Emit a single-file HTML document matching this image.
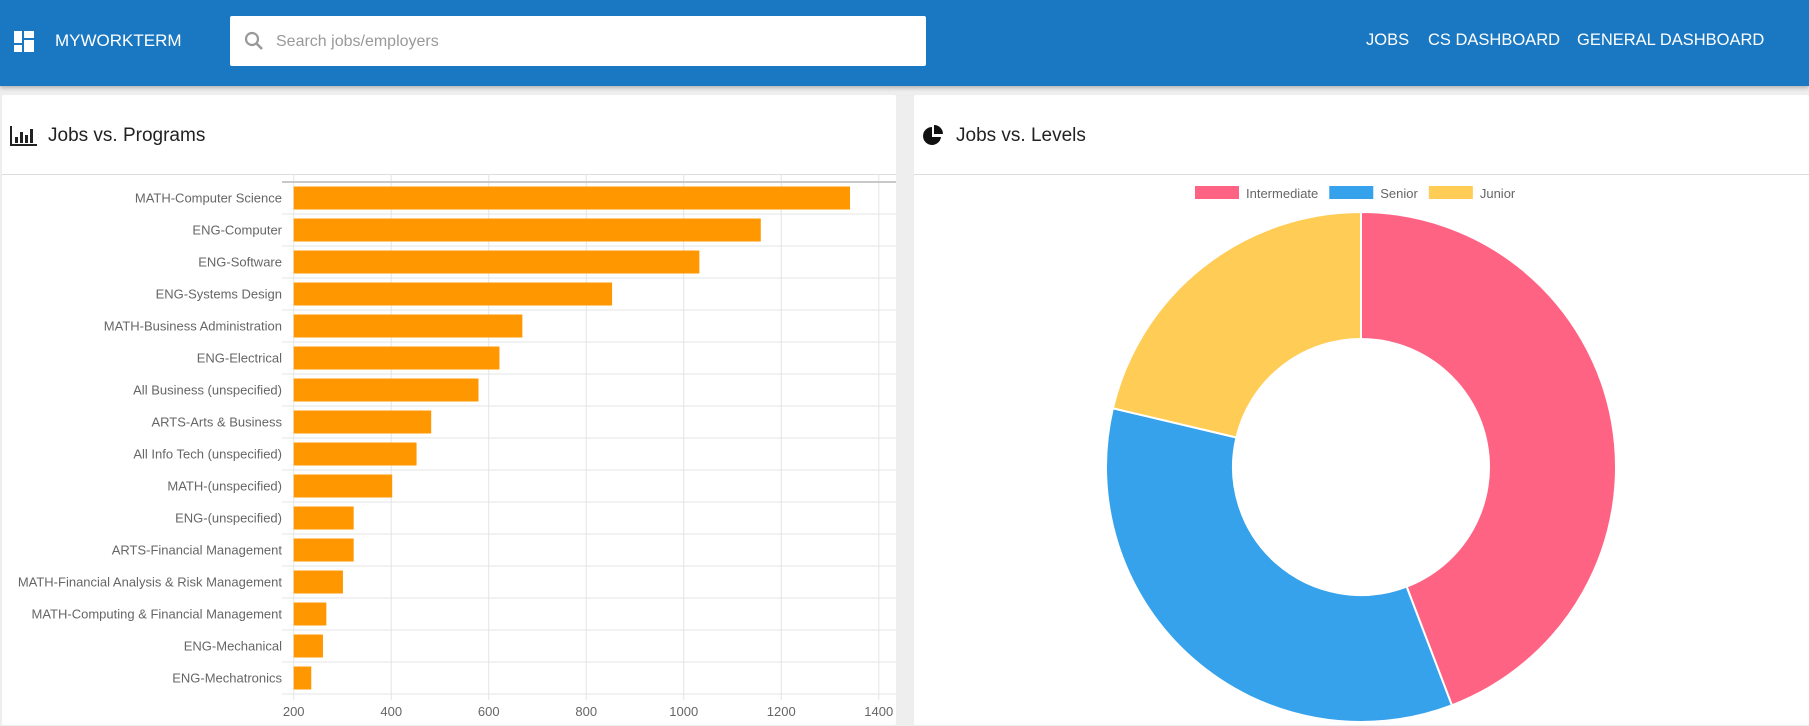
<!DOCTYPE html>
<html><head><meta charset="utf-8"><style>
body{margin:0;width:1809px;height:726px;background:#eeeeee;font-family:"Liberation Sans",sans-serif;overflow:hidden;position:relative}
.hdr{position:absolute;left:0;top:0;width:1809px;height:86px;background:#1a78c2;box-shadow:0 2px 4px rgba(0,0,0,.25)}
.brand{position:absolute;left:55px;top:31px;color:#fff;font-size:17px}
.search{position:absolute;left:230px;top:16px;width:696px;height:50px;background:#fff;border-radius:2px}
.search span{position:absolute;left:46px;top:17px;color:#999;font-size:16px}
.nav{position:absolute;top:31px;color:#fff;font-size:16.5px}
.panel{position:absolute;top:95px;height:630px;background:#fff;border-radius:2px}
.ptitle{position:absolute;top:30px;font-size:19px;color:#222}
.pline{position:absolute;left:0;right:0;top:79px;height:1px;background:#ddd}
</style></head><body>
<div class="hdr">
<svg style="position:absolute;left:14px;top:31px" width="20" height="21"><rect x="0" y="0" width="8" height="12" fill="#fff"/><rect x="10" y="0" width="10" height="7" fill="#fff"/><rect x="10" y="9" width="10" height="12" fill="#fff"/><rect x="0" y="14" width="8" height="7" fill="#fff"/></svg>
<div class="brand">MYWORKTERM</div>
<div class="search">
<svg style="position:absolute;left:14px;top:15px" width="20" height="20"><circle cx="8" cy="8" r="6" fill="none" stroke="#999" stroke-width="2.2"/><line x1="12.5" y1="12.5" x2="18" y2="18" stroke="#999" stroke-width="2.6"/></svg>
<span>Search jobs/employers</span></div>
<div class="nav" style="left:1366px">JOBS</div>
<div class="nav" style="left:1428px">CS DASHBOARD</div>
<div class="nav" style="left:1577px">GENERAL DASHBOARD</div>
</div>
<div class="panel" style="left:2px;width:894px">
<svg style="position:absolute;left:8px;top:31px" width="27" height="20"><path d="M1 0V19H27" stroke="#222" stroke-width="2" fill="none"/><rect x="5" y="11" width="3" height="6" fill="#222"/><rect x="10" y="6" width="3" height="11" fill="#222"/><rect x="15" y="9" width="3" height="8" fill="#222"/><rect x="20" y="3" width="3" height="14" fill="#222"/></svg>
<div class="ptitle" style="left:46px">Jobs vs. Programs</div>
<div class="pline"></div>
</div>
<div class="panel" style="left:914px;width:895px">
<svg style="position:absolute;left:8px;top:30px" width="22" height="22"><path d="M10 2A9 9 0 1 0 19 12H10Z" fill="#111"/><path d="M12 0A9 9 0 0 1 21 9H12Z" fill="#111"/></svg>
<div class="ptitle" style="left:42px">Jobs vs. Levels</div>
<div class="pline"></div>
</div>
<svg id="bar" style="position:absolute;left:0;top:0" width="1809" height="726"></svg>
<script>
const categories=["MATH-Computer Science","ENG-Computer","ENG-Software","ENG-Systems Design","MATH-Business Administration","ENG-Electrical","All Business (unspecified)","ARTS-Arts & Business","All Info Tech (unspecified)","MATH-(unspecified)","ENG-(unspecified)","ARTS-Financial Management","MATH-Financial Analysis & Risk Management","MATH-Computing & Financial Management","ENG-Mechanical","ENG-Mechatronics"];
const jobCounts=[1341,1158,1032,853,669,622,579,482,452,402,323,323,301,267,260,236];
const xTicks=[200,400,600,800,1000,1200,1400];
const levelLabels=["Intermediate","Senior","Junior"];
const levelValues=[442,345,213];
const levelColors=["#ff6384","#36a2eb","#ffcd56"];
const NS="http://www.w3.org/2000/svg";
const svg=document.getElementById('bar');
function mk(t,a,p){const e=document.createElementNS(NS,t);for(const k in a)e.setAttribute(k,a[k]);(p||svg).appendChild(e);return e;}
const x0=293.7,pxPer=0.48756,xMin=200;
function xs(v){return x0+(v-xMin)*pxPer;}
const top0=182,band=32;
function ys(i){return top0+i*band;}
xTicks.forEach(t=>{const l=mk('line',{x1:xs(t),x2:xs(t),y1:174,y2:700,stroke:'#e4e4e4','stroke-width':1});


const tx=mk('text',{x:xs(t),y:716,'text-anchor':'middle','font-size':13,fill:'#666','font-family':'Liberation Sans'});tx.textContent=t;

});
for(let i=0;i<=categories.length;i++){const l=mk('line',{x1:282,x2:896,y1:ys(i),y2:ys(i),stroke:i==0?'#c8c8c8':'#e4e4e4','stroke-width':i==0?2:1});

}
categories.forEach((c,i)=>{
const r=mk('rect',{x:x0,y:ys(i)+4.5,width:xs(jobCounts[i])-x0,height:23,fill:'#ff9800'});


const t=mk('text',{x:282,y:ys(i)+20.5,'text-anchor':'end','font-size':13,fill:'#666','font-family':'Liberation Sans'});t.textContent=c;

});
let lx=1195;
levelLabels.forEach((l,i)=>{const r=mk('rect',{x:lx,y:186,width:44,height:13,fill:levelColors[i]});


const t=mk('text',{x:lx+51,y:198,'font-size':13,fill:'#666','font-family':'Liberation Sans'});t.textContent=l;


lx+=51+t.getComputedTextLength()+11;});
const cx=1361,cy=467,R=255,r0=128;
const total=levelValues.reduce((a,b)=>a+b,0);
let a=-Math.PI/2;
levelValues.forEach((v,i)=>{const a2=a+v/total*2*Math.PI;const lg=(a2-a)>Math.PI?1:0;
const p=(rr,an)=>(cx+rr*Math.cos(an))+','+(cy+rr*Math.sin(an));
const d='M'+p(R,a)+'A'+R+','+R+' 0 '+lg+' 1 '+p(R,a2)+'L'+p(r0,a2)+'A'+r0+','+r0+' 0 '+lg+' 0 '+p(r0,a)+'Z';
const s=mk('path',{d:d,fill:levelColors[i],stroke:'#fff','stroke-width':2});


a=a2;});
</script>
</body></html>
